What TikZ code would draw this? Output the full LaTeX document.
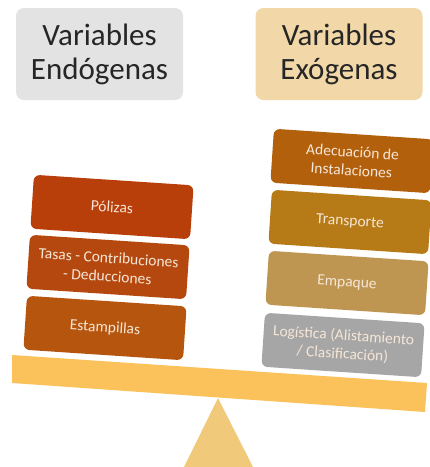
\documentclass[tikz,border=0pt]{standalone}
\usepackage{fontspec}
\setmainfont{Carlito}
\definecolor{hdrgray}{RGB}{227,227,227}
\definecolor{hdrtan}{RGB}{242,216,168}
\definecolor{cpol}{RGB}{184,62,10}
\definecolor{ctas}{RGB}{180,72,14}
\definecolor{cest}{RGB}{182,86,14}
\definecolor{cade}{RGB}{178,96,12}
\definecolor{ctra}{RGB}{182,122,22}
\definecolor{cemp}{RGB}{190,150,82}
\definecolor{clog}{RGB}{166,166,166}
\definecolor{cbar}{RGB}{251,193,90}
\definecolor{ctri}{RGB}{241,201,122}
\definecolor{boxtext}{RGB}{246,230,215}
\begin{document}
\begin{tikzpicture}[x=1pt,y=1pt,
  hdr/.style={rectangle,rounded corners=8pt,minimum width=167pt,minimum height=92pt,
    align=center,font=\fontsize{31}{34}\selectfont,text=black!85},
  item/.style={rectangle,rounded corners=6pt,minimum width=160pt,minimum height=54pt,
    rotate=-3.8,align=center,text=boxtext,font=\fontsize{15.5}{18.5}\selectfont}]
\useasboundingbox (0,0) rectangle (430,-467);
% headers
\node[hdr,fill=hdrgray] (endo) at (99.5,-54) {Variables\\Endógenas};
\node[hdr,fill=hdrtan] (exo) at (339,-54) {Variables\\Exógenas};
% fulcrum
\fill[ctri] (218,-398) -- (253,-467) -- (184,-467) -- cycle;
% beam
\fill[cbar] (12,-355) -- (427,-383) -- (425,-412) -- (12,-383) -- cycle;
% left stack
\node[item,fill=cpol] (pol) at (112,-207) {Pólizas};
\node[item,fill=ctas] (tas) at (108,-267) {Tasas - Contribuciones\\- Deducciones};
\node[item,fill=cest] (est) at (105,-328) {Estampillas};
% right stack
\node[item,fill=cade] (ade) at (352,-161) {Adecuación de\\Instalaciones};
\node[item,fill=ctra] (tra) at (350,-222) {Transporte};
\node[item,fill=cemp] (emp) at (347,-283) {Empaque};
\node[item,fill=clog] (log) at (343,-345) {Logística (Alistamiento\\/ Clasificación)};
\end{tikzpicture}
\end{document}
